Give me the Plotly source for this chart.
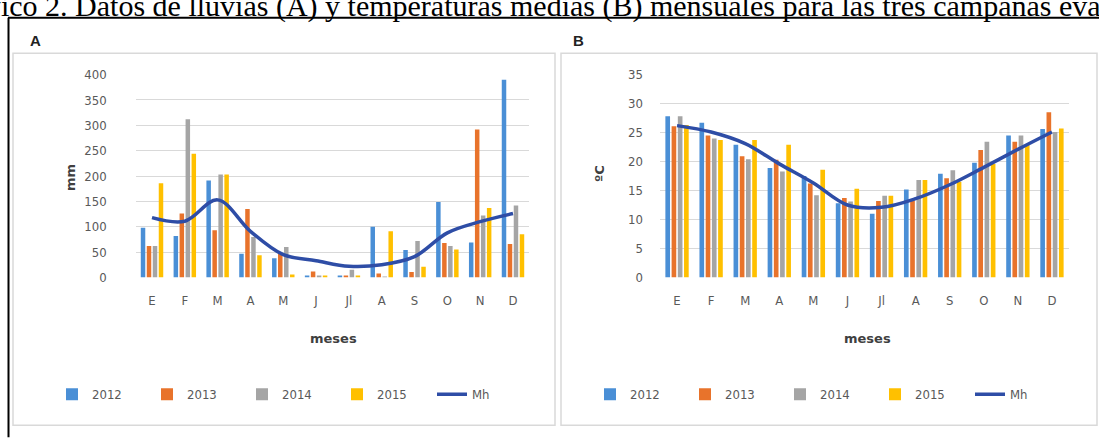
import plotly.graph_objects as go

# ---------------- data ----------------
months = ["E", "F", "M", "A", "M ", "J", "Jl", "A ", "S", "O", "N", "D"]
month_labels = ["E", "F", "M", "A", "M", "J", "Jl", "A", "S", "O", "N", "D"]
years = ["2012", "2013", "2014", "2015"]

rain_2012 = [98, 82, 191, 47, 38, 2, 3, 100, 54, 149, 69, 390]
rain_2013 = [62, 126, 93, 135, 47, 12, 3, 8, 11, 68, 292, 66]
rain_2014 = [62, 312, 203, 80, 60, 3, 15, 1, 72, 62, 122, 142]
rain_2015 = [186, 244, 203, 44, 6, 2, 3, 91, 21, 55, 137, 85]
rain_mh = [118, 111, 153, 91, 45, 33, 22, 25, 41, 88, 110, 126]

temp_2012 = [27.8, 26.7, 22.9, 18.9, 17.5, 12.8, 11.0, 15.2, 17.9, 19.8, 24.5, 25.6]
temp_2013 = [26.1, 24.5, 20.9, 20.3, 16.2, 13.7, 13.2, 13.3, 17.1, 22.0, 23.4, 28.5]
temp_2014 = [27.8, 24.0, 20.4, 18.3, 14.2, 13.1, 14.1, 16.8, 18.5, 23.4, 24.5, 25.1]
temp_2015 = [26.3, 23.7, 23.7, 22.9, 18.6, 15.3, 14.1, 16.8, 16.5, 19.6, 22.9, 25.7]
temp_mh = [26.2, 25.1, 23.1, 19.6, 16.3, 12.5, 12.1, 13.6, 16.0, 19.0, 22.1, 25.1]

rain_ticks = [0, 50, 100, 150, 200, 250, 300, 350, 400]
temp_ticks = [0, 5, 10, 15, 20, 25, 30, 35]

colors = ["#4A8FD6", "#E8732B", "#A5A5A5", "#FFC000"]
mh_color = "#2E4DA6"

W, H = 1099, 441


def px(x):
    return x / W


def py(y):
    return 1 - y / H


fig = go.Figure()

rain = [rain_2012, rain_2013, rain_2014, rain_2015]
temp = [temp_2012, temp_2013, temp_2014, temp_2015]

for i, yr in enumerate(years):
    fig.add_trace(go.Bar(x=months, y=rain[i], name=yr, marker_color=colors[i],
                         marker_line_width=0, xaxis="x", yaxis="y",
                         legend="legend"))
fig.add_trace(go.Scatter(x=months, y=rain_mh, name="Mh", mode="lines",
                         line=dict(color=mh_color, width=3.5, shape="spline", smoothing=1),
                         xaxis="x", yaxis="y", legend="legend"))

for i, yr in enumerate(years):
    fig.add_trace(go.Bar(x=months, y=temp[i], name=yr, marker_color=colors[i],
                         marker_line_width=0, xaxis="x2", yaxis="y2",
                         legend="legend2"))
fig.add_trace(go.Scatter(x=months, y=temp_mh, name="Mh", mode="lines",
                         line=dict(color=mh_color, width=3.5, shape="spline", smoothing=1),
                         xaxis="x2", yaxis="y2", legend="legend2"))

tick_font = dict(family="Liberation Sans Narrow, DejaVu Sans Condensed, Arial Narrow, sans-serif",
                 size=13, color="#595959")
title_font = dict(family="DejaVu Sans, Liberation Sans, sans-serif", size=13, color="#404040")

xcommon = dict(type="category", tickmode="array", tickvals=months, ticktext=month_labels,
               showgrid=False, showline=False, zeroline=False, ticks="",
               tickfont=tick_font, ticklabelstandoff=14, fixedrange=True)

fig.update_layout(
    width=W, height=H,
    margin=dict(l=0, r=0, t=0, b=0),
    paper_bgcolor="white", plot_bgcolor="white",
    barmode="group", bargap=0.27, bargroupgap=0.25,
    xaxis=dict(domain=[px(135.6), px(529.4)], anchor="y", **xcommon),
    xaxis2=dict(domain=[px(660), px(1069)], anchor="y2", **xcommon),
    yaxis=dict(domain=[py(280), py(70)], range=[0, 400], tickvals=rain_ticks,
               showgrid=True, gridcolor="#D9D9D9", gridwidth=1, zeroline=False,
               showline=False, ticks="", tickfont=tick_font, ticklabelstandoff=28,
               anchor="x", fixedrange=True),
    yaxis2=dict(domain=[py(280), py(70)], range=[0, 35], tickvals=temp_ticks,
                showgrid=True, gridcolor="#D9D9D9", gridwidth=1, zeroline=False,
                showline=False, ticks="", tickfont=tick_font, ticklabelstandoff=16,
                anchor="x2", fixedrange=True),
    legend=dict(orientation="h", x=px(52), y=py(401), xanchor="left", yanchor="middle",
                font=dict(family=tick_font["family"], size=13, color="#595959"),
                entrywidth=50, bgcolor="rgba(0,0,0,0)", traceorder="normal"),
    legend2=dict(orientation="h", x=px(590), y=py(401), xanchor="left", yanchor="middle",
                 font=dict(family=tick_font["family"], size=13, color="#595959"),
                 entrywidth=50, bgcolor="rgba(0,0,0,0)", traceorder="normal"),
    showlegend=True,
)

shapes = [
    # panel borders
    dict(type="rect", xref="paper", yref="paper", x0=px(13), x1=px(555), y0=py(433), y1=py(48),
         line=dict(color="#D9D9D9", width=1.5), layer="below"),
    dict(type="rect", xref="paper", yref="paper", x0=px(561), x1=px(1097), y0=py(433), y1=py(48),
         line=dict(color="#D9D9D9", width=1.5), layer="below"),
    # outer black frame
    dict(type="line", xref="paper", yref="paper", x0=px(8.5), x1=px(8.5), y0=-0.01, y1=py(11),
         line=dict(color="black", width=2)),
    dict(type="line", xref="paper", yref="paper", x0=px(8), x1=1.01, y0=py(11), y1=py(11),
         line=dict(color="black", width=2)),
]
fig.update_layout(shapes=shapes)

ann = [
    dict(text="Gráfico 2. Datos de lluvias (A) y temperaturas medias (B) mensuales para las tres campañas evaluadas",
         x=px(-56), y=py(-1.5), xanchor="left", yanchor="middle",
         font=dict(family="Liberation Serif, Times New Roman, serif", size=30, color="black")),
    dict(text="<b>A</b>", x=px(35), y=py(35), xanchor="center", yanchor="middle",
         font=dict(family="Liberation Sans, Arial, sans-serif", size=15, color="#222")),
    dict(text="<b>B</b>", x=px(578), y=py(35), xanchor="center", yanchor="middle",
         font=dict(family="Liberation Sans, Arial, sans-serif", size=15, color="#222")),
    dict(text="<b>mm</b>", x=px(71), y=py(177), xanchor="center", yanchor="middle",
         textangle=-90, font=title_font),
    dict(text="<b>ºC</b>", x=px(599), y=py(173), xanchor="center", yanchor="middle",
         textangle=-90, font=title_font),
    dict(text="<b>meses</b>", x=px(333), y=py(343), xanchor="center", yanchor="middle",
         font=title_font),
    dict(text="<b>meses</b>", x=px(867), y=py(343), xanchor="center", yanchor="middle",
         font=title_font),
]
for a in ann:
    a.update(xref="paper", yref="paper", showarrow=False)
fig.update_layout(annotations=ann)

fig.write_html("out.html", config={"displayModeBar": False},
               post_script="document.body.style.margin='0';document.body.style.overflow='hidden';")
